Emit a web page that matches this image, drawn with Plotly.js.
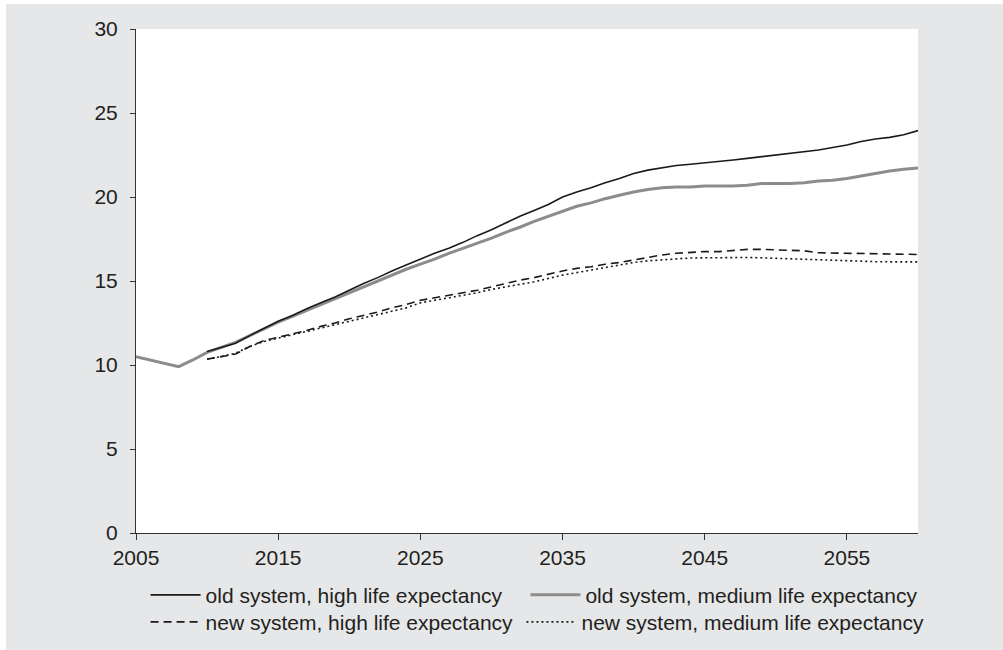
<!DOCTYPE html>
<html>
<head>
<meta charset="utf-8">
<script src="https://cdn.plot.ly/plotly-3.0.1.min.js"></script>
<style>
  html, body { margin: 0; padding: 0; background: #ffffff; }
  #chart { position: absolute; left: 6px; top: 4px; width: 997px; height: 646px; }
</style>
</head>
<body>
<div id="chart"></div>
<script>
const years = [];
for (let y = 2005; y <= 2060; y++) years.push(y);
const yearsNew = years.filter(y => y >= 2010);

const oldMedium = [10.5, 10.3, 10.1, 9.9, 10.3, 10.75, 11.05, 11.35, 11.75, 12.15,
  12.55, 12.9, 13.25, 13.6, 13.95, 14.3, 14.65, 15.0, 15.35, 15.7,
  16.0, 16.3, 16.65, 16.95, 17.25, 17.55, 17.9, 18.2, 18.55, 18.85,
  19.15, 19.45, 19.65, 19.9, 20.1, 20.3, 20.45, 20.55, 20.6, 20.6,
  20.65, 20.65, 20.65, 20.7, 20.8, 20.8, 20.8, 20.85, 20.95, 21.0,
  21.1, 21.25, 21.4, 21.55, 21.65, 21.72];

const oldHigh = [10.8, 11.05, 11.3, 11.75, 12.2, 12.6, 12.95, 13.35, 13.7, 14.05,
  14.45, 14.85, 15.2, 15.6, 15.95, 16.3, 16.65, 16.95, 17.3, 17.7,
  18.05, 18.45, 18.85, 19.2, 19.55, 20.0, 20.3, 20.55, 20.85, 21.1,
  21.4, 21.6, 21.75, 21.88, 21.95, 22.02, 22.1, 22.2, 22.3, 22.4,
  22.5, 22.6, 22.7, 22.8, 22.95, 23.1, 23.3, 23.45, 23.55, 23.7, 23.95];

const newHigh = [10.35, 10.5, 10.65, 11.1, 11.45, 11.65, 11.85, 12.05, 12.3, 12.5,
  12.75, 12.95, 13.15, 13.4, 13.6, 13.85, 14.0, 14.15, 14.3, 14.45,
  14.65, 14.85, 15.05, 15.2, 15.4, 15.6, 15.75, 15.85, 16.0, 16.1,
  16.25, 16.4, 16.55, 16.65, 16.7, 16.75, 16.75, 16.8, 16.88, 16.88,
  16.85, 16.82, 16.8, 16.68, 16.66, 16.65, 16.64, 16.62, 16.6, 16.6, 16.58];

const newMedium = [10.35, 10.5, 10.7, 11.1, 11.4, 11.6, 11.8, 12.0, 12.2, 12.4,
  12.6, 12.8, 13.0, 13.2, 13.4, 13.7, 13.85, 14.0, 14.15, 14.3,
  14.5, 14.65, 14.8, 14.95, 15.15, 15.35, 15.5, 15.65, 15.8, 15.95,
  16.1, 16.2, 16.27, 16.33, 16.37, 16.38, 16.4, 16.4, 16.4, 16.38,
  16.35, 16.32, 16.3, 16.26, 16.22, 16.18, 16.15, 16.15, 16.14, 16.14, 16.14];

const seriesNames = [
  'old system, high life expectancy',
  'old system, medium life expectancy',
  'new system, high life expectancy',
  'new system, medium life expectancy'
];
const xTicks = [2005, 2015, 2025, 2035, 2045, 2055];
const yTicks = [0, 5, 10, 15, 20, 25, 30];

const textColor = '#231f20';
const fontFamily = 'Liberation Sans, Arial, Helvetica, sans-serif';

const traces = [
  { x: years, y: oldMedium, name: seriesNames[1], legend: 'legend2', mode: 'lines',
    line: { color: '#8c8c8c', width: 3 } },
  { x: yearsNew, y: oldHigh, name: seriesNames[0], legend: 'legend', mode: 'lines',
    line: { color: '#1a1a1a', width: 1.6 } },
  { x: yearsNew, y: newHigh, name: seriesNames[2], legend: 'legend3', mode: 'lines',
    line: { color: '#1a1a1a', width: 1.6, dash: '8px,5px' } },
  { x: yearsNew, y: newMedium, name: seriesNames[3], legend: 'legend4', mode: 'lines',
    line: { color: '#1a1a1a', width: 1.6, dash: '2px,3px' } }
];

const legendBase = {
  orientation: 'h',
  xref: 'container', yref: 'container',
  xanchor: 'left', yanchor: 'top',
  bgcolor: 'rgba(0,0,0,0)',
  itemwidth: 50,
  font: { family: fontFamily, size: 21, color: textColor }
};

const layout = {
  width: 997, height: 646,
  margin: { l: 130, r: 85, t: 25, b: 117, pad: 0 },
  paper_bgcolor: '#e6e7e8',
  plot_bgcolor: '#ffffff',
  font: { family: fontFamily, size: 21, color: textColor },
  showlegend: true,
  legend: Object.assign({}, legendBase, { x: 0.140, y: 0.1166 }),
  legend2: Object.assign({}, legendBase, { x: 0.521, y: 0.1166 }),
  legend3: Object.assign({}, legendBase, { x: 0.140, y: 0.0748 }),
  legend4: Object.assign({}, legendBase, { x: 0.517, y: 0.0748 }),
  xaxis: {
    range: [2005, 2060],
    tickvals: xTicks,
    ticktext: xTicks.map(String),
    ticks: 'outside', ticklen: 6, tickwidth: 1, tickcolor: '#333',
    showline: true, linecolor: '#333', linewidth: 1,
    showgrid: false, zeroline: false,
    tickfont: { family: fontFamily, size: 21, color: textColor },
    fixedrange: true
  },
  yaxis: {
    range: [0, 30],
    tickvals: yTicks,
    ticktext: yTicks.map(String),
    ticks: 'outside', ticklen: 5, tickwidth: 1, tickcolor: '#333',
    showline: true, linecolor: '#333', linewidth: 1,
    showgrid: false, zeroline: false,
    ticklabelstandoff: 8,
    tickfont: { family: fontFamily, size: 21, color: textColor },
    fixedrange: true
  }
};

Plotly.newPlot('chart', traces, layout, { displayModeBar: false, staticPlot: true });
</script>
</body>
</html>
